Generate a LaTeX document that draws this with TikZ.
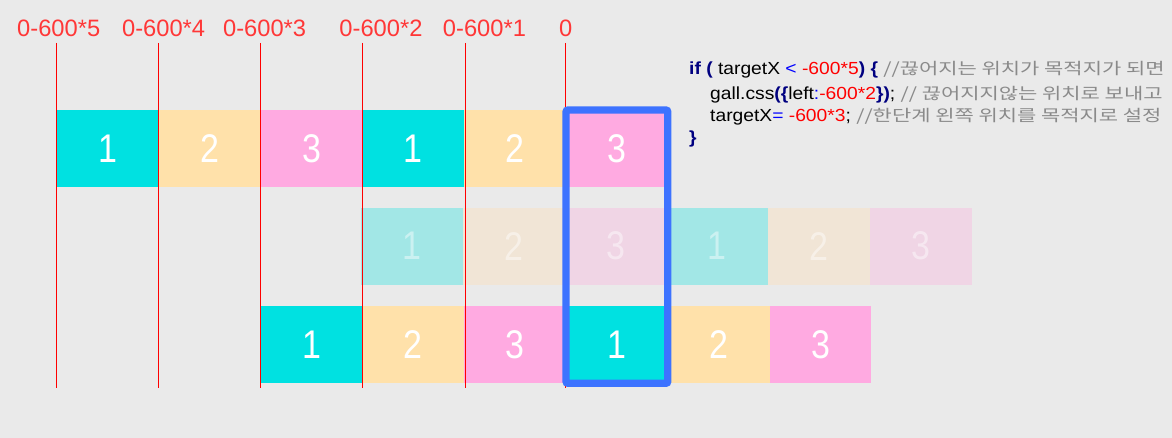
\documentclass[tikz,border=0pt]{standalone}
\usepackage{fontspec}
\usepackage{tikz}
\usetikzlibrary{positioning}

\setmainfont{Liberation Sans}
\newfontfamily\labelfont{Liberation Sans}
\newfontfamily\numfont[FakeStretch=0.85]{Liberation Sans}
\newfontfamily\codefont[FakeStretch=1.1]{Liberation Sans}
\newfontfamily\kofont[FakeStretch=1.31]{Noto Sans CJK KR}

\definecolor{bgray}{HTML}{EAEAEA}
\definecolor{cyanc}{HTML}{00E1E1}
\definecolor{yellc}{HTML}{FFE1AA}
\definecolor{pinkc}{HTML}{FFAAE1}
\definecolor{fcyan}{HTML}{A2E7E6}
\definecolor{fyell}{HTML}{F1E5D6}
\definecolor{fpink}{HTML}{F0D5E5}
\definecolor{guidered}{HTML}{FF0000}
\definecolor{labelred}{HTML}{FF3737}
\definecolor{frameblue}{HTML}{3D73FF}
\definecolor{navy}{HTML}{000080}
\definecolor{codeblue}{HTML}{0000FF}
\definecolor{codered}{HTML}{FF0000}
\definecolor{cmtgray}{HTML}{8A8A8A}

\newcommand{\kocmt}[1]{{\kofont\fontsize{16}{18}\selectfont\color{cmtgray}#1}}

\begin{document}
\begin{tikzpicture}[x=1pt, y=-1pt,
    cell/.style={minimum width=101.8pt, minimum height=77pt, inner sep=0pt,
      outer sep=0pt, anchor=north west, text=white,
      font=\numfont\fontsize{40}{40}\selectfont},
    fadecell/.style={cell, text opacity=0.45},
    guide/.style={draw=guidered, line width=1.3pt},
    marker/.style={text=labelred, inner sep=0pt,
      font=\labelfont\fontsize{23.7}{24}\selectfont},
    codeln/.style={anchor=base west, inner sep=0pt,
      font=\codefont\fontsize{17.5}{20}\selectfont},
    frame/.style={draw=frameblue, line width=7.3pt, rounded corners=2pt}]
  \fill[bgray] (0,0) rectangle (1172,438);
  \useasboundingbox (0,0) rectangle (1172,438);

  % three rows of slides
  \foreach \k/\c/\n in {1/cyanc/1, 2/yellc/2, 3/pinkc/3, 4/cyanc/1, 5/yellc/2, 6/pinkc/3} {
    \node[cell, fill=\c] (t\k) at ({57+101.8*(\k-1)},110) {\n};
    \node[cell, fill=\c] (b\k) at ({260.6+101.8*(\k-1)},306.3) {\n};
  }
  \foreach \k/\c/\n in {1/fcyan/1, 2/fyell/2, 3/fpink/3, 4/fcyan/1, 5/fyell/2, 6/fpink/3} {
    \node[fadecell, fill=\c] (m\k) at ({361+101.8*(\k-1)},207.7) {\n};
  }

  % position guides
  \foreach \k/\gx/\lx/\lbl in {1/56.5/58.7/0-600*5, 2/158.5/163.6/0-600*4,
      3/260.5/264.6/0-600*3, 4/362.5/381/0-600*2, 5/465.5/484.5/0-600*1, 6/565.5/565.6/0} {
    \node[marker] (lab\k) at (\lx,28) {\lbl};
    \draw[guide] (\gx,43) -- (\gx,388);
  }

  % visible window
  \draw[frame] (t6.north west) rectangle (b4.south east);

  % code
  \node[codeln] (c1) at (689,75) {\textcolor{navy}{\bfseries if (} targetX
    \textcolor{codeblue}{<} \textcolor{codered}{-600*5}\textcolor{navy}{\bfseries )}
    \textcolor{navy}{\bfseries \{} \kocmt{//끊어지는 위치가 목적지가 되면}};
  \node[codeln] (c2) at (710,99.5) {gall.css\textcolor{navy}{\bfseries (\{}left%
    \textcolor{codeblue}{:}\textcolor{codered}{-600*2}\textcolor{navy}{\bfseries \})};
    \kocmt{// 끊어지지않는 위치로 보내고}};
  \node[codeln] (c3) at (710,122) {targetX\textcolor{codeblue}{=}
    \textcolor{codered}{-600*3}; \kocmt{//한단계 왼쪽 위치를 목적지로 설정}};
  \node[codeln] (c4) at (689,144) {\textcolor{navy}{\bfseries \}}};
\end{tikzpicture}
\end{document}
